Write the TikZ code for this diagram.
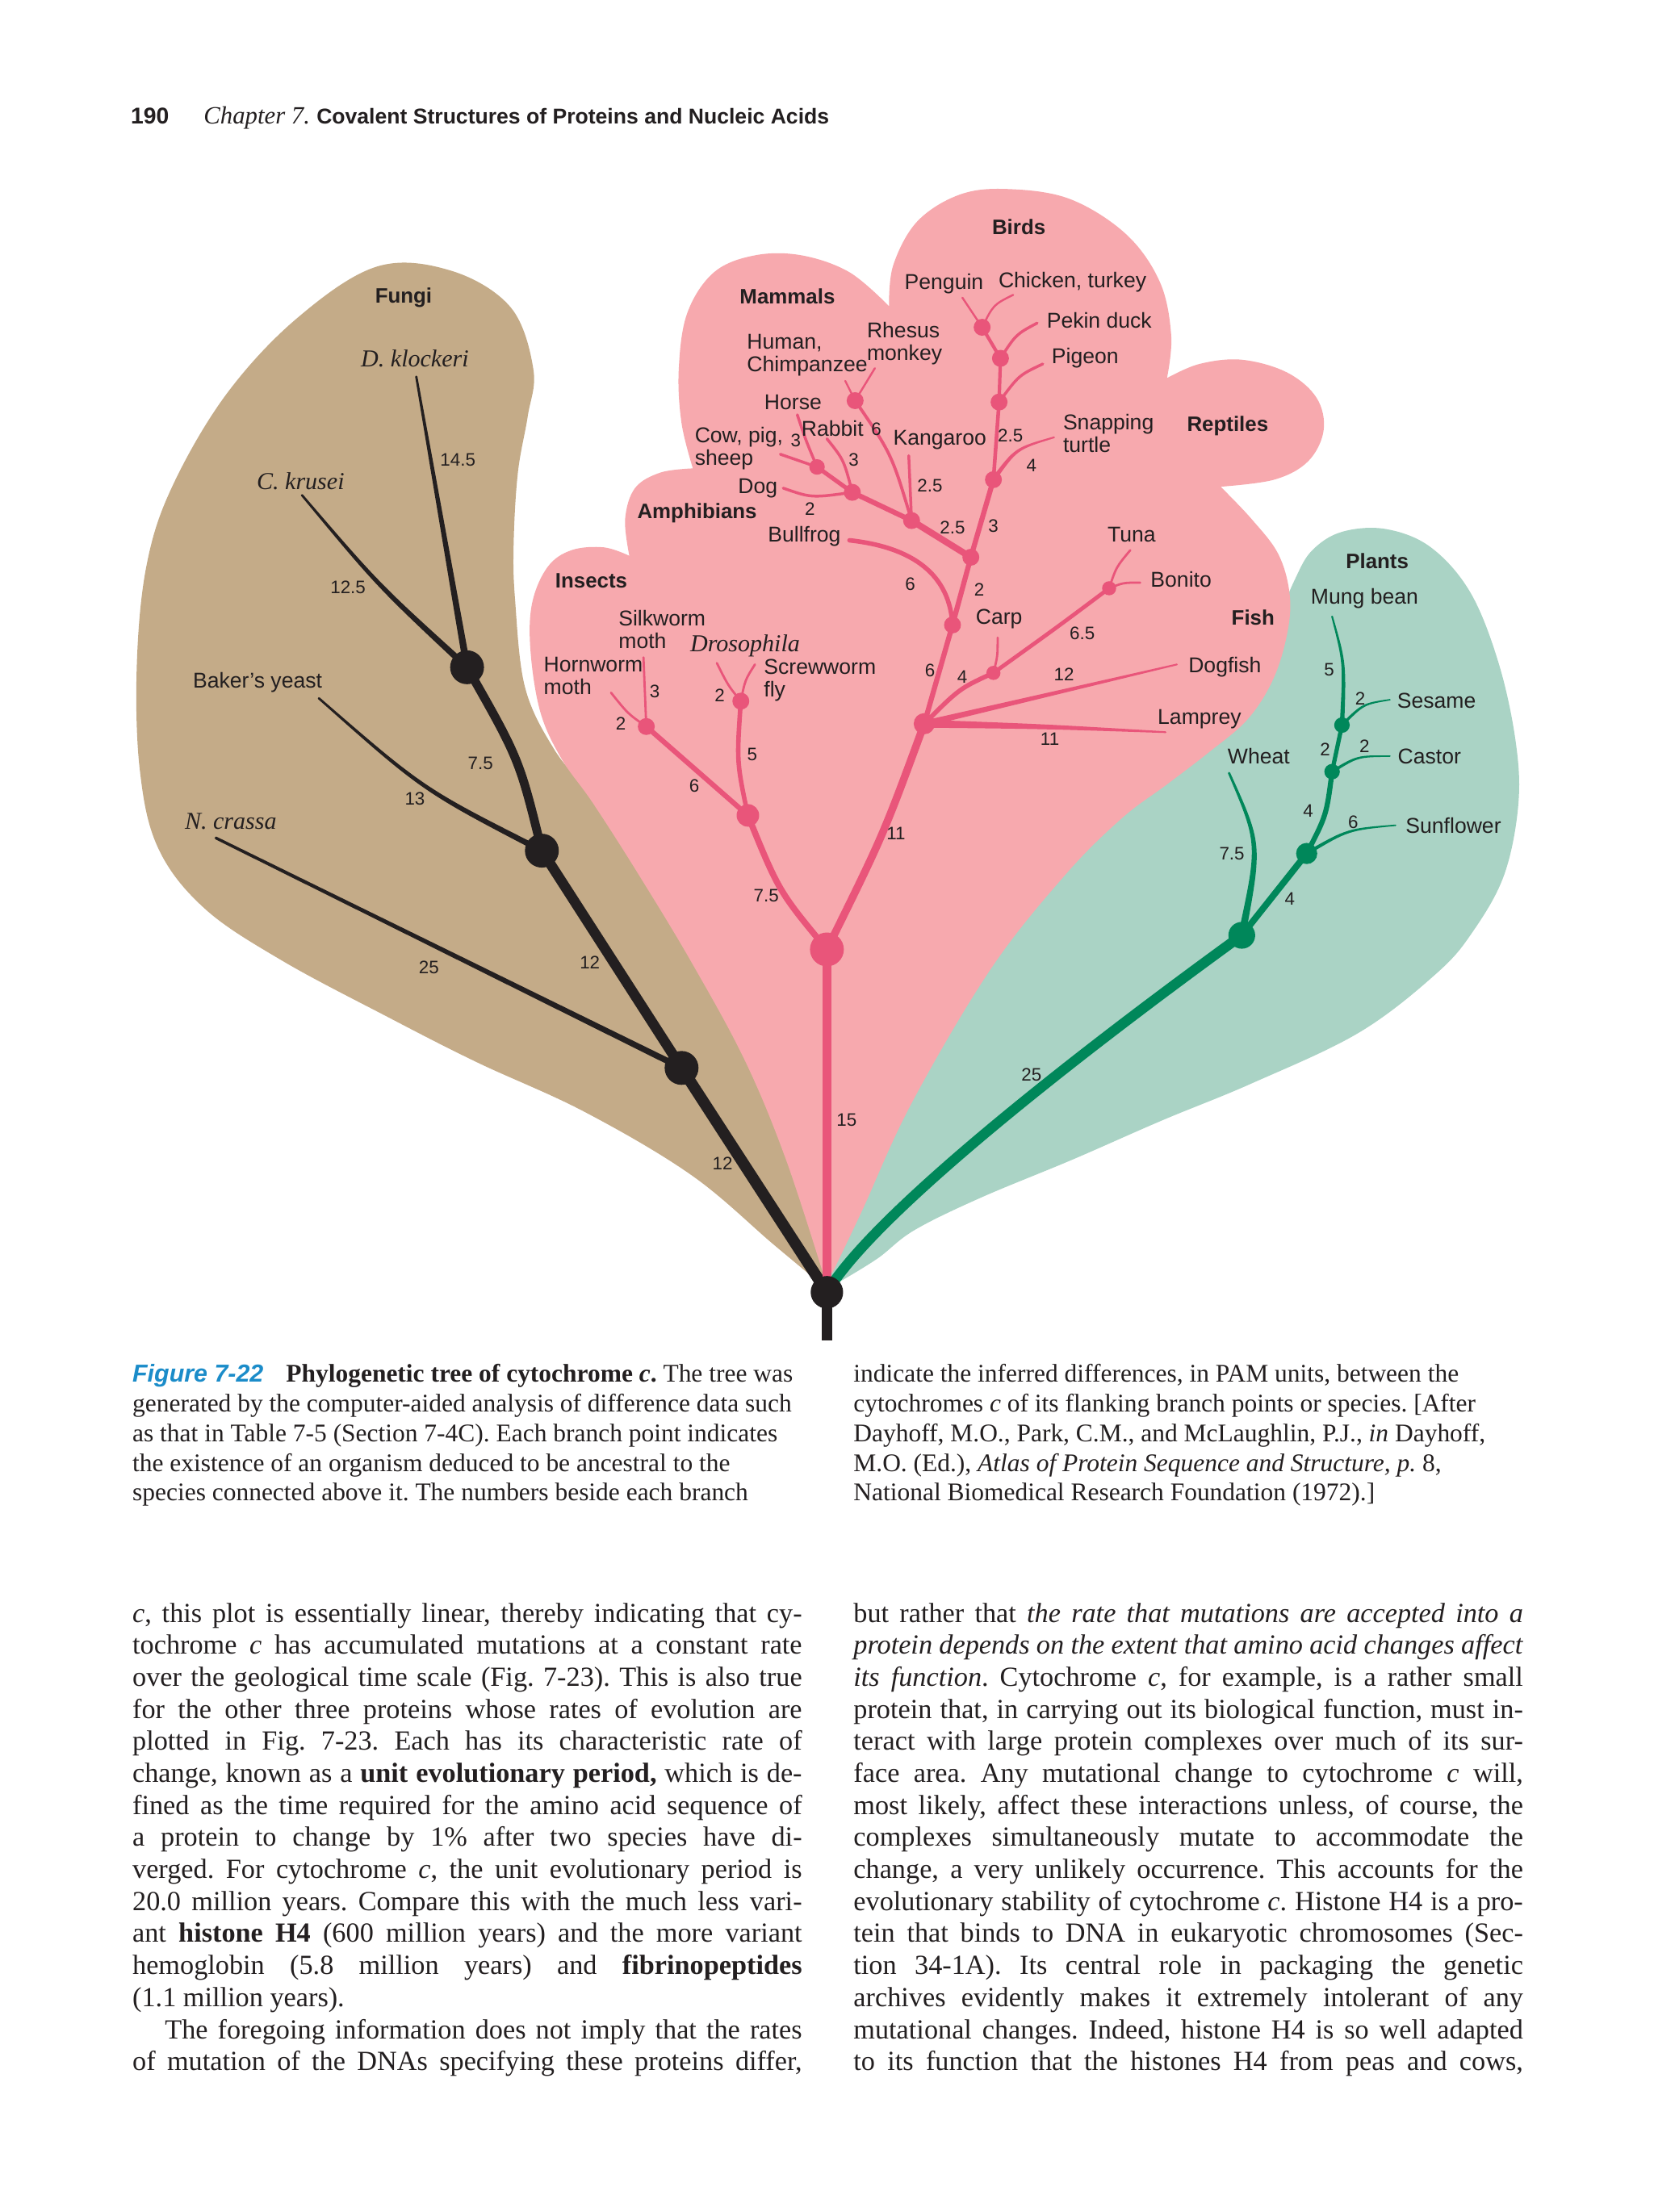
\documentclass[tikz,border=0pt]{standalone}
\usepackage{fontspec}
\setmainfont{Liberation Serif}
\setsansfont{Liberation Sans}
\usetikzlibrary{calc}
\definecolor{tanc}{HTML}{C4AB88}
\definecolor{pinkc}{HTML}{F7A9AE}
\definecolor{greenc}{HTML}{AAD3C5}
\definecolor{pinkl}{HTML}{E9557A}
\definecolor{greenl}{HTML}{00875A}
\definecolor{blk}{HTML}{231F20}
\definecolor{figblue}{HTML}{1B8CC9}
\pgfdeclarelayer{regions}
\pgfdeclarelayer{branches}
\pgfsetlayers{regions,branches,main}
\newcommand\jline[1]{\makebox[237.25pt][s]{#1}}
% tapered branch: start, control, end, half-width at start, half-width at end, colour
\newcommand\taperbr[6]{%
  \coordinate (tA1) at ($(#1)!#4!90:(#2)$);
  \coordinate (tA2) at ($(#1)!#4!-90:(#2)$);
  \coordinate (tB1) at ($(#3)!#5!-90:(#2)$);
  \coordinate (tB2) at ($(#3)!#5!90:(#2)$);
  \coordinate (tC1) at ($(#2)+0.5*(tA1)-0.5*(#1)+0.5*(tB1)-0.5*(#3)$);
  \coordinate (tC2) at ($(#2)+0.5*(tA2)-0.5*(#1)+0.5*(tB2)-0.5*(#3)$);
  \fill[#6] (tA1) .. controls (tC1) .. (tB1) -- (tB2) .. controls (tC2) .. (tA2) -- cycle;
  \fill[#6] (#3) circle[radius=#5];
}
\begin{document}
\begin{tikzpicture}[x=0.5pt,y=-0.5pt,
  lab/.style={font=\sffamily\fontsize{7.6}{8}\selectfont, text=blk, inner sep=0pt, align=left},
  grp/.style={font=\sffamily\bfseries\fontsize{7.4}{8}\selectfont, text=blk, inner sep=0pt},
  num/.style={font=\sffamily\fontsize{6.4}{7}\selectfont, text=blk, inner sep=0pt},
  spc/.style={font=\rmfamily\itshape\fontsize{8.6}{9}\selectfont, text=blk, inner sep=0pt},
  body/.style={font=\rmfamily\fontsize{9.8}{11.35}\selectfont\frenchspacing, text=blk, inner sep=0pt, align=left, anchor=north west},
  capt/.style={font=\rmfamily\fontsize{9}{10.5}\selectfont\frenchspacing, text=blk, inner sep=0pt, align=left, anchor=north west},
  bdot/.style={circle, fill=blk, inner sep=0pt, minimum size=#1},
  pdot/.style={circle, fill=pinkl, inner sep=0pt, minimum size=#1},
  gdot/.style={circle, fill=greenl, inner sep=0pt, minimum size=#1},
  bl/.style={draw=blk, line width=#1, line cap=round},
  pl/.style={draw=pinkl, line width=#1, line cap=round},
  gl/.style={draw=greenl, line width=#1, line cap=round},
]
\useasboundingbox (0,0) rectangle (1172,1568);

% ---------- header ----------
\node[anchor=base west, inner sep=0pt, font=\sffamily\bfseries\fontsize{8.1}{9}\selectfont, text=blk] (pgnum) at (92.4,88) {190};
\node[anchor=base west, inner sep=0pt, font=\rmfamily\itshape\fontsize{8.8}{9}\selectfont, text=blk] (chap) at (144,88) {Chapter 7.};
\node[anchor=base west, inner sep=0pt, font=\sffamily\bfseries\fontsize{7.6}{9}\selectfont, text=blk] (title) at (224,88) {Covalent Structures of Proteins and Nucleic Acids};

% ---------- branch points ----------
\node[bdot=11.5pt] (r0) at (586,916) {};
\node[bdot=12pt] (f1) at (483,757) {};
\node[bdot=12pt] (f2) at (384,603) {};
\node[bdot=12pt] (f3) at (331,473) {};
\coordinate (base) at (586,950);
\coordinate (dk) at (295,267);
\coordinate (ck) at (214,351);
\coordinate (by) at (226,495);
\coordinate (nc) at (153,594);

\node[pdot=12pt] (m1) at (586,673) {};
\node[pdot=8pt] (i1) at (530,578) {};
\node[pdot=6pt] (i2) at (458,515) {};
\node[pdot=6pt] (i3) at (525,497) {};
\node[pdot=7.5pt] (fi1) at (655,513) {};
\node[pdot=5pt] (fi2) at (704,477) {};
\node[pdot=5pt] (fi3) at (786,417) {};
\node[pdot=6pt] (am1) at (675,443) {};
\node[pdot=6pt] (v1) at (688,395) {};
\node[pdot=6pt] (ma1) at (646,369) {};
\node[pdot=6pt] (ma2) at (604,349) {};
\node[pdot=5.5pt] (ma3) at (579,331) {};
\node[pdot=6pt] (hu) at (606,284) {};
\node[pdot=6pt] (r1) at (704,340) {};
\node[pdot=6pt] (b3) at (708,285) {};
\node[pdot=6pt] (b2) at (709,254) {};
\node[pdot=6pt] (b1) at (696,232) {};
\coordinate (hw) at (433,491);
\coordinate (sw) at (456,466);
\coordinate (dr) at (508,470);
\coordinate (scw) at (535,471);
\coordinate (carp) at (707,452);
\coordinate (tuna) at (801,390);
\coordinate (bon) at (808,413);
\coordinate (dogf) at (834,471);
\coordinate (lam) at (826,519);
\coordinate (bull) at (602,383);
\coordinate (kang) at (644,323);
\coordinate (hum) at (599,270);
\coordinate (rhe) at (620,261);
\coordinate (rab) at (586,311);
\coordinate (dog) at (555,346);
\coordinate (hor) at (565,294);
\coordinate (cow) at (553,322);
\coordinate (tur) at (747,310);
\coordinate (pig) at (739,258);
\coordinate (duck) at (735,229);
\coordinate (peng) at (682,211);
\coordinate (chick) at (718,209);

\node[gdot=9.5pt] (p7) at (880,663) {};
\node[gdot=7.5pt] (p6) at (926,605) {};
\node[gdot=5.5pt] (p5) at (944,547) {};
\node[gdot=5.5pt] (p4) at (951,514) {};
\coordinate (mung) at (944,437);
\coordinate (ses) at (985,496);
\coordinate (cas) at (985,536);
\coordinate (sun) at (989,585);
\coordinate (wht) at (871,548);

% ---------- regions ----------
\begin{pgfonlayer}{regions}
\fill[white] (0,0) rectangle (1172,1568);
\fill[tanc] plot[smooth, tension=0.6] coordinates {(584,912) (548,882) (490,833) (414,788) (338,753) (275,721) (200,681) (145,644) (112,601) (99,545) (97,470) (104,400) (122,345) (160,280) (210,226) (267,189) (320,192) (362,218) (378,262) (374,295) (367,335) (364,385) (365,425) (372,487) (392,530) (418,563) (460,615) (497,680) (535,752) (563,822) (586,905)} -- cycle;
\fill[greenc] plot[smooth, tension=0.6] coordinates {(586,905) (603,856) (638,778) (694,682) (748,614) (795,569) (826,549) (853,527) (879,506) (897,476) (906,440) (918,410) (930,390) (951,377) (982,375) (1014,388) (1042,420) (1062,470) (1074,525) (1076,570) (1066,620) (1044,660) (1018,690) (963,732) (887,768) (824,794) (760,822) (695,849) (648,872) (622,892) (596,908)} -- cycle;
\fill[pinkc] plot[smooth, tension=0.6] coordinates {(584,905) (557,822) (528,752) (490,682) (452,619) (420,569) (398,538) (383,505) (376,462) (377,428) (388,402) (405,390) (428,388) (446,394)}
  -- plot[smooth, tension=0.6] coordinates {(446,394) (443,368) (450,346) (468,335) (491,332)}
  -- plot[smooth, tension=0.6] coordinates {(491,332) (483,300) (481,262) (487,222) (506,193) (535,181) (568,181) (602,193) (630,217)}
  -- plot[smooth, tension=0.6] coordinates {(630,217) (633,188) (650,157) (680,138) (714,134) (758,141) (798,166) (822,200) (830,238) (827,268)}
  -- plot[smooth, tension=0.6] coordinates {(827,268) (850,258) (880,255) (912,264) (933,282) (938,305) (927,327) (903,340) (865,345)}
  -- plot[smooth, tension=0.6] coordinates {(865,345) (887,368) (906,393) (914,422) (912,450) (902,482) (884,510) (857,533) (827,556) (795,580) (755,620) (702,687) (646,782) (611,858) (590,902)} -- cycle;
\end{pgfonlayer}

% ---------- branches ----------
\begin{pgfonlayer}{branches}
% fungi
\draw[bl=3.8pt, line cap=butt] (r0.center) -- (base);
\draw[bl=4pt] (r0.center) -- (f1.center);
\draw[bl=3.6pt] (f1.center) -- (f2.center);
\draw[bl=3.1pt] (f2.center) .. controls (368,538) .. (f3.center);
\taperbr{f3.center}{313,370}{dk}{1.25pt}{0.4pt}{blk}
\taperbr{f3.center}{268,415}{ck}{1.15pt}{0.4pt}{blk}
\taperbr{f2.center}{300,560}{by}{1.05pt}{0.4pt}{blk}
\taperbr{f1.center}{318,675}{nc}{1.1pt}{0.5pt}{blk}
% animals
\draw[pl=3pt] (r0.center) -- (m1.center);
\draw[pl=2.2pt] (m1.center) .. controls (552,632) .. (i1.center);
\draw[pl=2.7pt] (m1.center) .. controls (626,592) .. (fi1.center);
\draw[pl=1.8pt] (i1.center) -- (i2.center);
\draw[pl=1.6pt] (i1.center) .. controls (522,540) .. (i3.center);
\draw[pl=0.8pt] (i2.center) .. controls (445,506) .. (hw);
\draw[pl=0.8pt] (i2.center) -- (sw);
\draw[pl=0.8pt] (i3.center) .. controls (516,486) .. (dr);
\draw[pl=0.8pt] (i3.center) .. controls (528,482) .. (scw);
\draw[pl=1.8pt] (fi1.center) -- (am1.center);
\draw[pl=1.6pt] (fi1.center) .. controls (680,488) .. (fi2.center);
\taperbr{fi1.center}{744,492}{dogf}{1.1pt}{0.3pt}{pinkl}
\taperbr{fi1.center}{740,515}{lam}{1.4pt}{0.3pt}{pinkl}
\draw[pl=0.8pt] (fi2.center) .. controls (707,465) .. (carp);
\draw[pl=1.4pt] (fi2.center) .. controls (750,444) .. (fi3.center);
\draw[pl=0.8pt] (fi3.center) .. controls (791,402) .. (tuna);
\draw[pl=0.8pt] (fi3.center) .. controls (796,413) .. (bon);
\draw[pl=1.8pt] (am1.center) -- (v1.center);
\draw[pl=1.6pt] (am1.center) .. controls (673,408) and (648,388) .. (bull);
\draw[pl=2.3pt] (v1.center) -- (ma1.center);
\draw[pl=1.8pt] (v1.center) -- (r1.center);
\draw[pl=1.8pt] (ma1.center) -- (ma2.center);
\draw[pl=1pt] (ma1.center) -- (kang);
\draw[pl=1.1pt] (ma1.center) .. controls (632,322) .. (hu.center);
\draw[pl=0.7pt] (hu.center) -- (hum);
\draw[pl=0.7pt] (hu.center) -- (rhe);
\draw[pl=1.5pt] (ma2.center) -- (ma3.center);
\draw[pl=1pt] (ma2.center) .. controls (598,326) .. (rab);
\draw[pl=1pt] (ma2.center) .. controls (575,353) .. (dog);
\draw[pl=1pt] (ma3.center) .. controls (571,312) .. (hor);
\draw[pl=1pt] (ma3.center) -- (cow);
\taperbr{r1.center}{720,318}{tur}{0.8pt}{0.3pt}{pinkl}
\draw[pl=1.3pt] (r1.center) -- (b3.center);
\draw[pl=1pt] (b3.center) .. controls (722,266) .. (pig);
\draw[pl=1.2pt] (b3.center) -- (b2.center);
\draw[pl=1pt] (b2.center) .. controls (720,237) .. (duck);
\draw[pl=1.2pt] (b2.center) -- (b1.center);
\draw[pl=0.7pt] (b1.center) -- (peng);
\draw[pl=0.7pt] (b1.center) .. controls (704,216) .. (chick);
% plants
\draw[gl=3.6pt] (r0.center) .. controls (620,860) and (760,750) .. (p7.center);
\draw[gl=2.3pt] (p7.center) -- (p6.center);
\draw[gl=1.8pt] (p6.center) .. controls (940,578) .. (p5.center);
\draw[gl=1.5pt] (p5.center) -- (p4.center);
\taperbr{p4.center}{953,470}{mung}{0.8pt}{0.3pt}{greenl}
\taperbr{p4.center}{966,499}{ses}{0.55pt}{0.25pt}{greenl}
\taperbr{p5.center}{962,536}{cas}{0.55pt}{0.25pt}{greenl}
\taperbr{p6.center}{955,588}{sun}{0.65pt}{0.25pt}{greenl}
\taperbr{p7.center}{893,598}{wht}{1.3pt}{0.4pt}{greenl}
\end{pgfonlayer}

% ---------- fungi labels ----------
\node[grp] (tfungi) at (286,211) {Fungi};
\node[spc] (tdk) at (294,254) {D. klockeri};
\node[spc] (tck) at (213,341) {C. krusei};
\node[lab] (tby) at (182.5,484) {Baker’s yeast};
\node[spc] (tnc) at (163.5,582) {N. crassa};
\node[num] (n1) at (324.5,326) {14.5};
\node[num] (n2) at (246.6,416.6) {12.5};
\node[num] (n3) at (340.5,541) {7.5};
\node[num] (n4) at (294,566) {13};
\node[num] (n5) at (304,686) {25};
\node[num] (n6) at (418,682) {12};
\node[num] (n7) at (512,825) {12};

% ---------- animal labels ----------
\node[grp] (tins) at (419,412) {Insects};
\node[grp] (tamph) at (494,364) {Amphibians};
\node[grp] (tmam) at (558,210) {Mammals};
\node[grp] (tbirds) at (722,161) {Birds};
\node[grp] (trept) at (870,302) {Reptiles};
\node[grp] (tfish) at (888,438) {Fish};
\node[lab, anchor=west] (tsilk) at (438,446) {Silkworm\\moth};
\node[lab, anchor=west] (thorn) at (385,479) {Hornworm\\moth};
\node[spc] (tdros) at (528,458) {Drosophila};
\node[lab, anchor=west] (tscrew) at (541,482.5) {Screwworm\\fly};
\node[lab] (tbull) at (570,380) {Bullfrog};
\node[lab] (tdog) at (537,346) {Dog};
\node[lab, anchor=west] (tcow) at (492,318) {Cow, pig,\\sheep};
\node[lab] (thorse) at (562,285) {Horse};
\node[lab] (trab) at (590,304) {Rabbit};
\node[lab, anchor=west] (thum) at (529,251.5) {Human,\\Chimpanzee};
\node[lab, anchor=west] (trhe) at (614,243.5) {Rhesus\\monkey};
\node[lab] (tkang) at (666,312) {Kangaroo};
\node[lab] (tpeng) at (669,201) {Penguin};
\node[lab] (tchick) at (760,200) {Chicken, turkey};
\node[lab] (tduck) at (779,227) {Pekin duck};
\node[lab] (tpig) at (769,254) {Pigeon};
\node[lab, anchor=west] (ttur) at (753,307) {Snapping\\turtle};
\node[lab] (ttuna) at (802,379) {Tuna};
\node[lab] (tbon) at (837,411) {Bonito};
\node[lab] (tcarp) at (708,439) {Carp};
\node[lab] (tdogf) at (868,473) {Dogfish};
\node[lab] (tlam) at (850,510) {Lamprey};
\node[num] (a1) at (621,304) {6};
\node[num] (a2) at (564,312) {3};
\node[num] (a3) at (605,326) {3};
\node[num] (a4) at (716,309) {2.5};
\node[num] (a5) at (731,330) {4};
\node[num] (a6) at (659,344) {2.5};
\node[num] (a7) at (574,361) {2};
\node[num] (a8) at (675,374) {2.5};
\node[num] (a9) at (704,373) {3};
\node[num] (a10) at (645,414) {6};
\node[num] (a11) at (694,418) {2};
\node[num] (a12) at (767,449) {6.5};
\node[num] (a13) at (659,475) {6};
\node[num] (a14) at (682,480) {4};
\node[num] (a15) at (754,478) {12};
\node[num] (a16) at (744,524) {11};
\node[num] (a17) at (635,591) {11};
\node[num] (a18) at (464,490) {3};
\node[num] (a19) at (440,513) {2};
\node[num] (a20) at (510,493) {2};
\node[num] (a21) at (533,535) {5};
\node[num] (a22) at (492,557) {6};
\node[num] (a23) at (543,635) {7.5};
\node[num] (a24) at (600,794) {15};

% ---------- plant labels ----------
\node[grp] (tplants) at (976,398) {Plants};
\node[lab] (tmung) at (967,424) {Mung bean};
\node[lab] (tses) at (1018,497) {Sesame};
\node[lab] (tcas) at (1013,536) {Castor};
\node[lab] (tsun) at (1030,585) {Sunflower};
\node[lab] (twht) at (892,536) {Wheat};
\node[num] (g1) at (942,475) {5};
\node[num] (g2) at (964,495) {2};
\node[num] (g3) at (939,531) {2};
\node[num] (g4) at (967,529) {2};
\node[num] (g5) at (927,575) {4};
\node[num] (g6) at (959,583) {6};
\node[num] (g7) at (873,605) {7.5};
\node[num] (g8) at (914,637) {4};
\node[num] (g9) at (731,762) {25};

% ---------- caption ----------
\node[capt] (capL) at (93.5,963.5) {\rule{0pt}{8pt}{\sffamily\bfseries\itshape\fontsize{8.7}{10.5}\selectfont\color{figblue}Figure 7-22}\hspace{8pt}\textbf{Phylogenetic tree of cytochrome \textit{c}.} The tree was\\
generated by the computer-aided analysis of difference data such\\
as that in Table 7-5 (Section 7-4C). Each branch point indicates\\
the existence of an organism deduced to be ancestral to the\\
species connected above it. The numbers beside each branch};
\node[capt] (capR) at (604.5,963.5) {\rule{0pt}{8pt}indicate the inferred differences, in PAM units, between the\\
cytochromes \textit{c} of its flanking branch points or species. [After\\
Dayhoff, M.O., Park, C.M., and McLaughlin, P.J., \textit{in} Dayhoff,\\
M.O. (Ed.), \textit{Atlas of Protein Sequence and Structure, p.} 8,\\
National Biomedical Research Foundation (1972).]};

% ---------- body text ----------
\node[body] (colL) at (93.5,1133.5) {\rule{0pt}{8pt}\jline{\textit{c}, this plot is essentially linear, thereby indicating that cy-}\\
\jline{tochrome \textit{c} has accumulated mutations at a constant rate}\\
\jline{over the geological time scale (Fig. 7-23). This is also true}\\
\jline{for the other three proteins whose rates of evolution are}\\
\jline{plotted in Fig. 7-23. Each has its characteristic rate of}\\
\jline{change, known as a \textbf{unit evolutionary period,} which is de-}\\
\jline{fined as the time required for the amino acid sequence of}\\
\jline{a protein to change by 1\% after two species have di-}\\
\jline{verged. For cytochrome \textit{c}, the unit evolutionary period is}\\
\jline{20.0 million years. Compare this with the much less vari-}\\
\jline{ant \textbf{histone H4} (600 million years) and the more variant}\\
\jline{hemoglobin (5.8 million years) and \textbf{fibrinopeptides}}\\
(1.1 million years).\\
\hspace*{11.5pt}\makebox[225.75pt][s]{The foregoing information does not imply that the rates}\\
\jline{of mutation of the DNAs specifying these proteins differ,}};
\node[body] (colR) at (604.5,1133.5) {\rule{0pt}{8pt}\jline{but rather that \textit{the rate that mutations are accepted into a}}\\
\jline{\textit{protein depends on the extent that amino acid changes affect}}\\
\jline{\textit{its function}. Cytochrome \textit{c}, for example, is a rather small}\\
\jline{protein that, in carrying out its biological function, must in-}\\
\jline{teract with large protein complexes over much of its sur-}\\
\jline{face area. Any mutational change to cytochrome \textit{c} will,}\\
\jline{most likely, affect these interactions unless, of course, the}\\
\jline{complexes simultaneously mutate to accommodate the}\\
\jline{change, a very unlikely occurrence. This accounts for the}\\
\jline{evolutionary stability of cytochrome \textit{c}. Histone H4 is a pro-}\\
\jline{tein that binds to DNA in eukaryotic chromosomes (Sec-}\\
\jline{tion 34-1A). Its central role in packaging the genetic}\\
\jline{archives evidently makes it extremely intolerant of any}\\
\jline{mutational changes. Indeed, histone H4 is so well adapted}\\
\jline{to its function that the histones H4 from peas and cows,}};
\end{tikzpicture}
\end{document}
